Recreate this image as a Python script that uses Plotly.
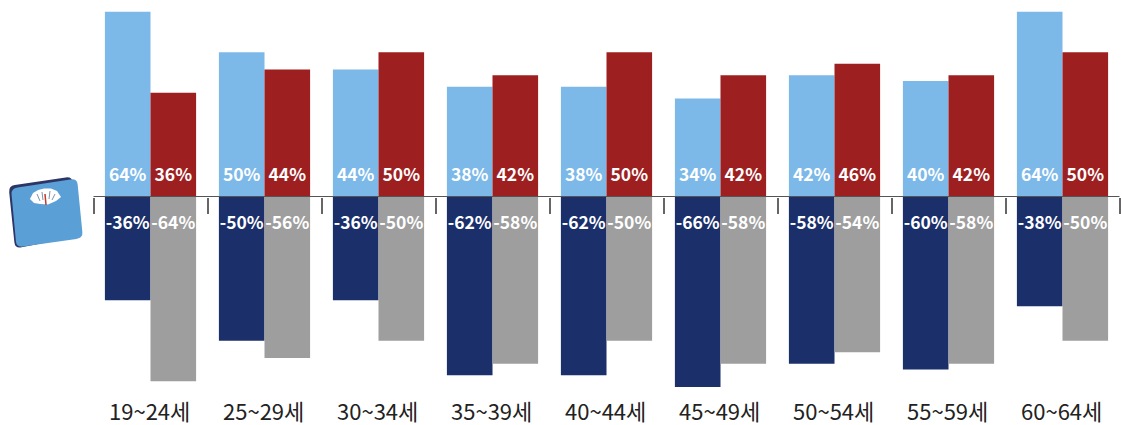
import plotly.graph_objects as go

# Share of respondents by age band (percent)
age_bands = ["19~24세", "25~29세", "30~34세", "35~39세", "40~44세",
             "45~49세", "50~54세", "55~59세", "60~64세"]
upper_left = [64, 50, 44, 38, 38, 34, 42, 40, 64]
upper_right = [36, 44, 50, 42, 50, 42, 46, 42, 50]
lower_left = [-36, -50, -36, -62, -62, -66, -58, -60, -38]
lower_right = [-64, -56, -50, -58, -50, -58, -54, -58, -50]

W, H = 1122, 425
PX_PER_PCT = 2.885
ZERO_Y = 196.5
LEFT, PITCH = 93.5, 114
LABEL_FONT = "Noto Sans CJK KR, Noto Sans, sans-serif"

positions = list(range(len(age_bands)))
fig = go.Figure()


def add_series(values, color, group, side):
    fig.add_bar(x=positions, y=values, marker=dict(color=color, line_width=0),
                offsetgroup=group, showlegend=False)
    # Value captions sit just off the baseline, over the bars
    offset = side * 0.2
    anchor_y = [6.8 if v > 0 else -9.9 for v in values]
    fig.add_scatter(x=[p + offset for p in positions], y=anchor_y, mode="text",
                    text=[f"{v}%" for v in values],
                    textfont=dict(color="white", size=17.5, family=LABEL_FONT, weight=600),
                    textposition="middle center", showlegend=False)


add_series(upper_left, "#7cb9e8", "a", -1)
add_series(upper_right, "#9e1f20", "b", 1)
add_series(lower_left, "#1b2f6b", "a", -1)
add_series(lower_right, "#9e9e9e", "b", 1)

y_top = ZERO_Y / PX_PER_PCT
y_bottom = -(H - ZERO_Y) / PX_PER_PCT
axis_pos = (H - ZERO_Y) / H

for pos, band in zip(positions, age_bands):
    fig.add_annotation(x=pos, y=-73.9, xshift=-1.5, text=band, showarrow=False,
                       font=dict(size=22, color="#222222", family=LABEL_FONT))


def px(x, y):
    return f"{x / W:.4f} {1 - y / H:.4f}"


def polygon(pts):
    return "M " + " L ".join(px(x, y) for x, y in pts) + " Z"


def rounded(corners, r=0.1):
    # Quadrilateral whose corners are softened with quadratic curves
    out = []
    n = len(corners)
    for i, (x, y) in enumerate(corners):
        px0, py0 = corners[i - 1]
        nx, ny = corners[(i + 1) % n]
        a = (x + (px0 - x) * r, y + (py0 - y) * r)
        b = (x + (nx - x) * r, y + (ny - y) * r)
        out.append(("M " if i == 0 else "L ") + px(*a))
        out.append("Q " + px(x, y) + " " + px(*b))
    return " ".join(out) + " Z"


# Bathroom-scale pictogram beside the axis
shapes = [
    dict(type="path", xref="paper", yref="paper", line_width=0, fillcolor="#2c3566",
         path=rounded([(8.5, 186), (72, 176.5), (80, 236), (15, 248.5)])),
    dict(type="path", xref="paper", yref="paper", line_width=0, fillcolor="#5a9fd6",
         path=rounded([(11, 188.5), (77, 178.5), (83, 238), (16.5, 247.5)])),
    dict(type="path", xref="paper", yref="paper", line_width=0, fillcolor="#ffffff",
         path=polygon([(30, 199), (33, 193), (38, 190), (44, 188.5), (51, 188.5),
                       (57, 191), (61, 197), (56, 201), (48, 204.5), (40, 204), (34, 203)])),
]
for x0, y0, x1, y1 in [(37, 194, 40, 201), (42, 192, 43, 200), (50, 191, 49, 199), (55, 194, 52, 200)]:
    shapes.append(dict(type="line", xref="paper", yref="paper",
                       x0=x0 / W, y0=1 - y0 / H, x1=x1 / W, y1=1 - y1 / H,
                       line=dict(color="#7f93a8", width=1)))
shapes.append(dict(type="line", xref="paper", yref="paper",
                   x0=45 / W, x1=46 / W, y0=1 - 194 / H, y1=1 - 205 / H,
                   line=dict(color="#c0392b", width=1.5)))
# Baseline spans only the categories, not the pictogram
shapes.append(dict(type="line", xref="x", yref="y", x0=-0.5, x1=8.5, y0=0, y1=0,
                   line=dict(color="#555555", width=1)))

fig.update_layout(
    width=W, height=H, margin=dict(l=0, r=0, t=0, b=0),
    paper_bgcolor="white", plot_bgcolor="white",
    barmode="group", bargap=0.2, bargroupgap=0,
    shapes=shapes,
    xaxis=dict(
        range=[-0.5 - LEFT / PITCH, (W - LEFT) / PITCH - 0.5],
        anchor="free", position=axis_pos,
        tickmode="array", tickvals=[p - 0.5 for p in positions] + [8.5],
        showticklabels=False, ticks="outside", ticklen=16, tickwidth=1.5,
        tickcolor="#666666", showgrid=False, zeroline=False,
        showline=False,
    ),
    yaxis=dict(range=[y_bottom, y_top], visible=False),
)

fig.write_html("out.html")
